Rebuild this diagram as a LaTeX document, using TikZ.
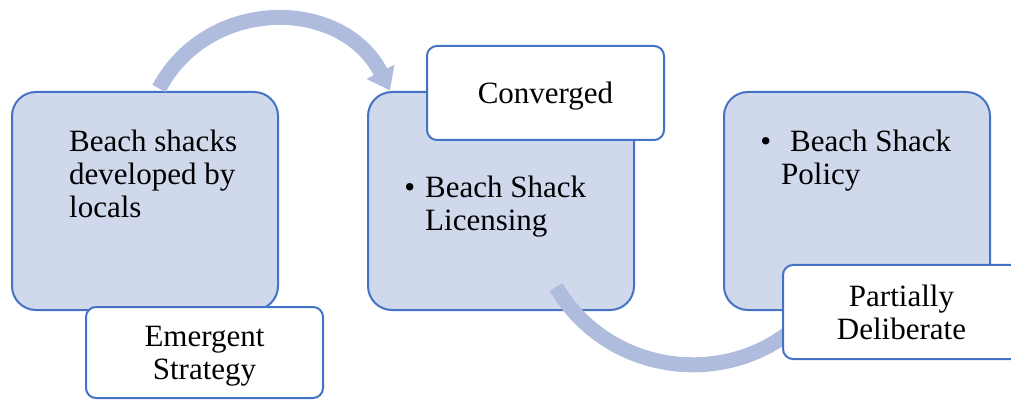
\documentclass[tikz,border=0pt]{standalone}
\usepackage{fontspec}
\setmainfont{Liberation Serif}
\usepackage{xcolor}
\usetikzlibrary{arrows.meta}

\definecolor{boxfill}{RGB}{208,216,236}
\definecolor{boxline}{RGB}{68,114,196}
\definecolor{arcfill}{RGB}{175,188,222}

\begin{document}
\begin{tikzpicture}[x=1pt, y=1pt,
    bigbox/.style={rectangle, rounded corners=24pt, draw=boxline, line width=2pt, fill=boxfill, minimum width=266pt, minimum height=218pt},
    tagbox/.style={rectangle, rounded corners=10pt, draw=boxline, line width=2pt, fill=white, minimum width=237pt, minimum height=94pt, align=center, text depth=0pt, font=\fontsize{31}{33}\selectfont},
    boxtext/.style={inner sep=0pt, anchor=north west, align=left, font=\fontsize{31}{33}\selectfont},
    flow/.style={line width=15pt, color=arcfill}
]
    \useasboundingbox (0,0) rectangle (1011,399);

    % Stages
    \node[bigbox] (shacks)    at (145,198) {};
    \node[bigbox] (licensing) at (501,198) {};
    \node[bigbox] (policy)    at (857,198) {};

    \node[boxtext] (shackstext) at (69,269) {Beach shacks\\developed by\\locals};
    \node[boxtext] (lictext) at (425,223) {\llap{\textbullet\hspace{10pt}}Beach Shack\\Licensing};
    \node[boxtext] (poltext) at (781,269) {\llap{\textbullet\hspace{10pt}}\hspace*{9pt}Beach Shack\\Policy};

    % Curved flows between stages
    \draw[flow, -{Triangle[length=21pt, width=30pt]}] ([xshift=14pt, yshift=2.5pt]shacks.north)
        to[out=62, in=117, looseness=1.16] ([xshift=-111pt, yshift=0.5pt]licensing.north);
    \draw[flow] ([xshift=55pt, yshift=24pt]licensing.south)
        to[out=-59.4, in=235, looseness=1.1] ([xshift=-35pt, yshift=13pt]policy.south);

    % Strategy tags
    \node[tagbox, minimum height=91pt] (emergent) at (204.5,46.5) {Emergent\\Strategy};
    \node[tagbox] (converged) at (545.5,306) {Converged};
    \node[tagbox] (deliberate) at (901.5,87) {Partially\\Deliberate};
\end{tikzpicture}
\end{document}
